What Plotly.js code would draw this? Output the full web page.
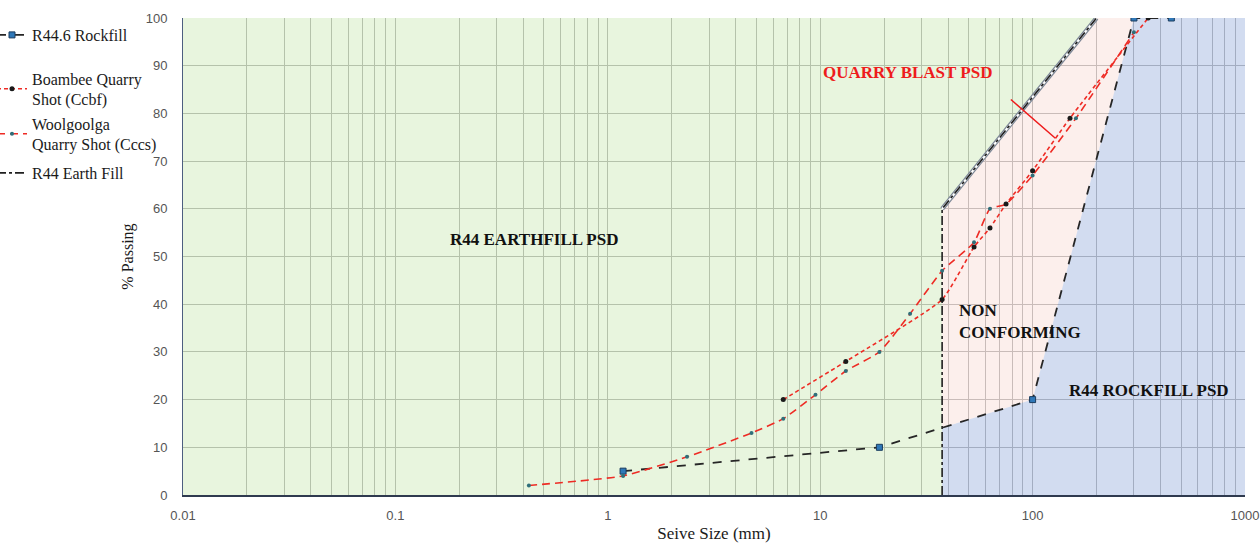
<!DOCTYPE html>
<html>
<head>
<meta charset="utf-8">
<script src="https://cdn.plot.ly/plotly-3.0.1.min.js"></script>
<style>html,body{margin:0;padding:0;background:#fff;}#chart{width:1260px;height:550px;}</style>
</head>
<body>
<div id="chart"></div>
<script>
// ---- data ----
const tickValues = [0.01, 0.1, 1, 10, 100, 1000];
const tickLabels = ['0.01', '0.1', '1', '10', '100', '1000'];
const passTicks = [0, 10, 20, 30, 40, 50, 60, 70, 80, 90, 100];

const rockfillSize = [1.18, 19, 100, 300, 450];
const rockfillPass = [5, 10, 20, 100, 100];

const boambeeSize = [6.7, 13.2, 37.5, 53, 63, 75, 100, 150, 350];
const boambeePass = [20, 28, 41, 52, 56, 61, 68, 79, 100];

const woolgoolgaSize = [0.425, 1.18, 2.36, 4.75, 6.7, 9.5, 13.2, 19, 26.5, 37.5, 53, 63, 75, 100, 160, 300];
const woolgoolgaPass = [2, 4, 8, 13, 16, 21, 26, 30, 38, 47, 53, 60, 61, 67, 79, 97];

const earthFillSize = [37.5, 37.5, 200];
const earthFillPass = [0, 60, 100];

// envelope zones
const earthZoneSize = [0.01, 37.5, 37.5, 200, 0.01];
const earthZonePass = [0, 0, 60, 100, 100];
const nonConfZoneSize = [37.5, 37.5, 200, 300, 100];
const nonConfZonePass = [14.1, 60, 100, 100, 20];
const rockZoneSize = [37.5, 37.5, 100, 300, 1000, 1000];
const rockZonePass = [0, 14.1, 20, 100, 100, 0];

const seriesNames = ['R44.6 Rockfill', 'Boambee Quarry<br>Shot (Ccbf)', 'Woolgoolga<br>Quarry Shot (Cccs)', 'R44 Earth Fill'];
const zoneLabels = ['R44 EARTHFILL PSD', 'QUARRY BLAST PSD', 'NON<br>CONFORMING', 'R44 ROCKFILL PSD'];
const axisTitles = {x: 'Seive Size (mm)', y: '% Passing'};

const serif = 'Liberation Serif, Times New Roman, serif';
const sans = 'Liberation Sans, Arial, sans-serif';

const traces = [
  {x: earthZoneSize, y: earthZonePass, type: 'scatter', mode: 'lines', fill: 'toself',
   fillcolor: 'rgba(214,237,194,0.55)', line: {width: 0}, showlegend: false, hoverinfo: 'skip'},
  {x: nonConfZoneSize, y: nonConfZonePass, type: 'scatter', mode: 'lines', fill: 'toself',
   fillcolor: 'rgba(250,225,221,0.55)', line: {width: 0}, showlegend: false, hoverinfo: 'skip'},
  {x: rockZoneSize, y: rockZonePass, type: 'scatter', mode: 'lines', fill: 'toself',
   fillcolor: 'rgba(178,195,229,0.58)', line: {width: 0}, showlegend: false, hoverinfo: 'skip'},
  // double outline of the earthfill upper boundary
  {x: earthFillSize.slice(1), y: earthFillPass.slice(1), type: 'scatter', mode: 'lines',
   line: {color: '#7d8796', width: 4.5}, showlegend: false, hoverinfo: 'skip'},
  {x: earthFillSize.slice(1), y: earthFillPass.slice(1), type: 'scatter', mode: 'lines',
   line: {color: '#ffffff', width: 2}, showlegend: false, hoverinfo: 'skip'},
  {x: earthFillSize, y: earthFillPass, type: 'scatter', mode: 'lines', name: seriesNames[3],
   line: {color: '#1f1f1f', width: 1.6, dash: 'dashdot'}, legend: 'legend4'},
  {x: rockfillSize, y: rockfillPass, type: 'scatter', mode: 'lines+markers', name: seriesNames[0],
   line: {color: '#262626', width: 1.8, dash: 'dash'},
   marker: {symbol: 'square', size: 6, color: '#2f78b8', line: {color: '#1b3c5e', width: 1}}, legend: 'legend'},
  {x: woolgoolgaSize, y: woolgoolgaPass, type: 'scatter', mode: 'lines+markers', name: seriesNames[2],
   line: {color: '#ee2b24', width: 1.6, dash: '8px,5px', shape: 'spline', smoothing: 0.5},
   marker: {symbol: 'circle', size: 4, color: '#2f6f7a'}, legend: 'legend3'},
  {x: boambeeSize, y: boambeePass, type: 'scatter', mode: 'lines+markers', name: seriesNames[1],
   line: {color: '#ee2b24', width: 1.6, dash: '4px,3px', shape: 'spline', smoothing: 0.5},
   marker: {symbol: 'circle', size: 5, color: '#1a1a1a'}, legend: 'legend2'}
];

function legendAt(centerPx) {
  return {xref: 'paper', yref: 'container', x: (-8 - 183) / 1062, y: 1 - centerPx / 550,
          xanchor: 'left', yanchor: 'middle', itemwidth: 30,
          font: {family: serif, size: 16, color: '#1a1a1a'}, bgcolor: 'rgba(0,0,0,0)'};
}

const gridCol = '#8f8f8f';
const layout = {
  width: 1260, height: 550,
  margin: {l: 183, r: 15, t: 18, b: 55, autoexpand: false},
  paper_bgcolor: '#ffffff', plot_bgcolor: '#ffffff',
  showlegend: true,
  legend: legendAt(35),
  legend2: legendAt(89),
  legend3: legendAt(134),
  legend4: legendAt(173),
  xaxis: {type: 'log', range: [-2, 3], tickmode: 'array', tickvals: tickValues, ticktext: tickLabels,
          showgrid: true, gridcolor: gridCol, gridwidth: 1,
          minor: {dtick: 'D1', showgrid: true, gridcolor: gridCol, gridwidth: 1, ticks: ''},
          showline: true, linecolor: '#2f3a4f', linewidth: 2, zeroline: false,
          ticks: 'outside', ticklen: 7, tickcolor: 'rgba(0,0,0,0)',
          tickfont: {family: sans, size: 13, color: '#555555'},
          title: {text: axisTitles.x, font: {family: serif, size: 17, color: '#1a1a1a'}, standoff: 6}},
  yaxis: {range: [0, 100], tickmode: 'array', tickvals: passTicks,
          showgrid: true, gridcolor: gridCol, gridwidth: 1,
          showline: true, linecolor: '#4d5e80', linewidth: 1, zeroline: false,
          ticks: 'outside', ticklen: 12, tickcolor: 'rgba(0,0,0,0)',
          tickfont: {family: sans, size: 13, color: '#555555'},
          title: {text: axisTitles.y, font: {family: serif, size: 16, color: '#1a1a1a'}, standoff: 8}},
  annotations: [
    {xref: 'x', yref: 'y', x: -0.344, y: 53.5, text: '<b>' + zoneLabels[0] + '</b>', showarrow: false,
     font: {family: serif, size: 17, color: '#111111'}},
    {xref: 'x', yref: 'y', x: 1.412, y: 88.5, text: '<b>' + zoneLabels[1] + '</b>', showarrow: false,
     font: {family: serif, size: 17, color: '#ee1c1c'}},
    {xref: 'x', yref: 'y', x: Math.log10(128), y: 74.8, ax: -46, ay: -40, text: '', showarrow: true,
     arrowhead: 0, arrowwidth: 1.5, arrowcolor: '#ee1c1c'},
    {xref: 'x', yref: 'y', x: 1.643, y: 36.4, xanchor: 'left', align: 'left',
     text: '<b>' + zoneLabels[2] + '</b>', showarrow: false,
     font: {family: serif, size: 17, color: '#111111'}},
    {xref: 'x', yref: 'y', x: 2.547, y: 22, text: '<b>' + zoneLabels[3] + '</b>', showarrow: false,
     font: {family: serif, size: 17, color: '#111111'}}
  ]
};

Plotly.newPlot('chart', traces, layout, {displayModeBar: false, staticPlot: true});
</script>
</body>
</html>
